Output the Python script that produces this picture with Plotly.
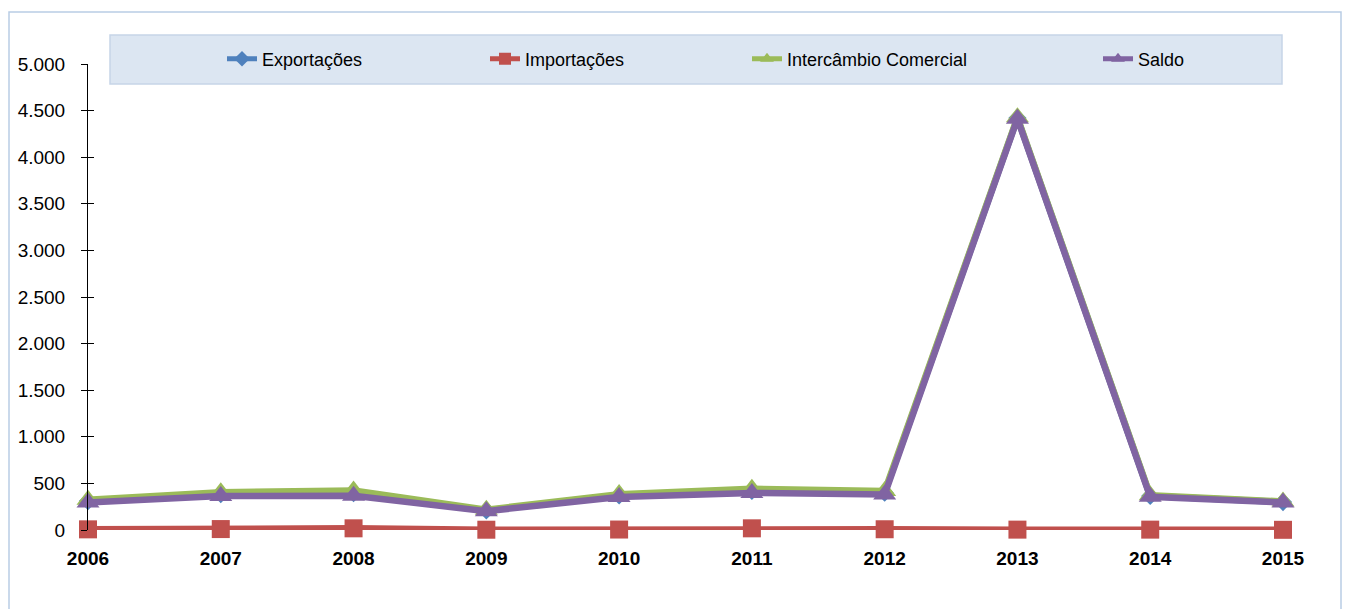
import plotly.graph_objects as go

anos = ["2006", "2007", "2008", "2009", "2010", "2011", "2012", "2013", "2014", "2015"]
exportacoes = [310, 385, 395, 210, 370, 420, 400, 4420, 365, 300]
importacoes = [7, 10, 18, 3, 5, 18, 8, 4, 4, 2]
intercambio = [325, 405, 423, 218, 385, 442, 418, 4428, 373, 306]
saldo = [295, 365, 367, 202, 355, 398, 382, 4412, 357, 294]
y_ticks = [0, 500, 1000, 1500, 2000, 2500, 3000, 3500, 4000, 4500, 5000]

series = [
    ("Exportações", exportacoes, "#4F81BD", "diamond", 14, "legend"),
    ("Importações", importacoes, "#C0504D", "square", 18, "legend2"),
    ("Intercâmbio Comercial", intercambio, "#9BBB59", "triangle-up", 20, "legend3"),
    ("Saldo", saldo, "#8064A2", "triangle-up", 20, "legend4"),
]

W, H = 1347, 609
L, R, T, B = 88, 1283, 64, 530

def fx(px):
    return (px - L) / (R - L)

def fy(py):
    return (B - py) / (B - T)

fig = go.Figure()
for name, vals, color, sym, size, leg in series:
    fig.add_trace(go.Scatter(
        x=anos, y=vals, name=name, mode="lines+markers",
        line=dict(color=color, width=6.5),
        marker=dict(symbol=sym, size=size, color=color),
        cliponaxis=False, legend=leg,
    ))

# invisible trace on yaxis2 for crossing tick marks
fig.add_trace(go.Scatter(x=[anos[0]], y=[0], yaxis="y2", showlegend=False,
                         mode="markers", marker=dict(opacity=0), hoverinfo="skip"))

fam = "Liberation Sans, Arial"
tick_font = dict(family=fam, size=19, color="#000000")
leg_font = dict(family=fam, size=18, color="#000000")
leg_common = dict(orientation="h", yanchor="middle", xanchor="left",
                  bgcolor="rgba(0,0,0,0)", font=leg_font, borderwidth=0,
                  itemsizing="constant")

fig.update_layout(
    width=W, height=H,
    margin=dict(l=L, r=W - R, t=T, b=H - B, pad=0, autoexpand=False),
    paper_bgcolor="white", plot_bgcolor="white",
    separators=",.",
    font=tick_font,
    xaxis=dict(type="category", range=[0, 9], showgrid=False, zeroline=False,
               showline=False, ticks="",
               tickfont=dict(family=fam, size=19, color="#000", weight="bold"),
               ticklabelstandoff=15),
    yaxis=dict(range=[0, 5000], tickvals=y_ticks, tickformat=",d", showgrid=False,
               zeroline=False, showline=True, linecolor="#000", linewidth=1,
               ticks="outside", ticklen=6, tickcolor="#000", tickfont=tick_font,
               ticklabelstandoff=12),
    yaxis2=dict(range=[0, 5000], tickvals=y_ticks, overlaying="y", side="left",
                showgrid=False, zeroline=False, showline=False, showticklabels=False,
                ticks="inside", ticklen=6, tickcolor="#000"),
    legend=dict(x=fx(222), y=fy(59), **leg_common),
    legend2=dict(x=fx(485), y=fy(59), **leg_common),
    legend3=dict(x=fx(747), y=fy(59), **leg_common),
    legend4=dict(x=fx(1098), y=fy(59), **leg_common),
    shapes=[
        dict(type="rect", xref="paper", yref="paper", x0=fx(9), x1=fx(1341), y0=fy(625), y1=fy(12),
             line=dict(color="#B9CDE5", width=1.5), fillcolor="rgba(0,0,0,0)", layer="below"),
        dict(type="rect", xref="paper", yref="paper", x0=fx(110), x1=fx(1282), y0=fy(84), y1=fy(35),
             line=dict(color="#C6D5E8", width=1.5), fillcolor="#DCE6F2", layer="below"),
    ],
)

fig.write_html("out.html", config={"displayModeBar": False},
               post_script="document.body.style.margin='0';document.body.style.overflow='hidden';")
